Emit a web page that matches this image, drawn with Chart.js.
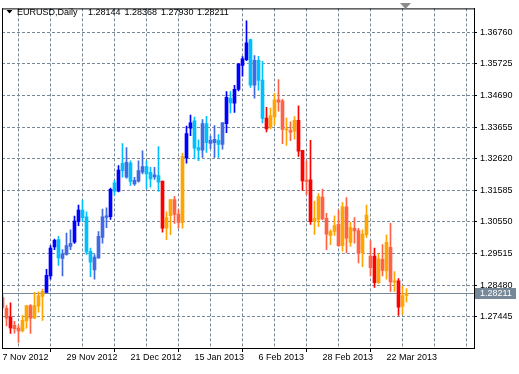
<!DOCTYPE html>
<html>
<head>
<meta charset="utf-8">
<script src="https://cdn.jsdelivr.net/npm/chart.js@4.4.1/dist/chart.umd.min.js"></script>
<style>
html,body{margin:0;padding:0;background:#ffffff;}
canvas{display:block;}
</style>
</head>
<body>
<canvas id="c" width="519" height="374"></canvas>
<script>
// ---------- data (EURUSD, Daily) ----------
const symbolName = 'EURUSD,Daily';

const open = [
1.28069,1.27723,1.27432,1.27164,1.27076,1.26979,1.27303,1.27810,1.27400,1.27788,
1.28111,1.28241,1.28781,1.29729,1.29968,1.29353,1.29483,1.29751,1.29890,1.30560,
1.30938,1.30721,1.29589,1.28975,1.29373,1.30042,1.30699,1.30721,1.31831,1.31562,
1.32468,1.32015,1.32478,1.31799,1.31886,1.32177,1.32361,1.32177,1.32025,1.32070,
1.31886,1.30343,1.30754,1.31281,1.30809,1.30527,1.32646,1.33623,1.33859,1.32986,
1.32898,1.33772,1.33125,1.33147,1.33222,1.33092,1.33772,1.34603,1.34441,1.34894,
1.35680,1.35864,1.36521,1.35033,1.35841,1.35195,1.33956,1.33665,1.33988,1.34548,
1.34515,1.33561,1.33545,1.33526,1.33875,1.32898,1.31918,1.31928,1.30560,1.30631,
1.31368,1.30667,1.30107,1.30236,1.30472,1.29774,1.31045,1.29881,1.30343,1.30269,
1.29534,1.30130,1.29428,1.29428,1.28564,1.29321,1.28943,1.29719,1.28577,1.28619,
1.27778,1.28144];

const high = [
1.28166,1.27810,1.27898,1.27293,1.27164,1.27487,1.27810,1.27843,1.28241,1.28263,
1.28351,1.28998,1.29774,1.29987,1.30075,1.29644,1.30181,1.30291,1.30744,1.31100,
1.31262,1.30883,1.29696,1.29483,1.30236,1.30971,1.31013,1.31659,1.31909,1.32394,
1.33115,1.32986,1.32555,1.32015,1.32555,1.32879,1.32555,1.32339,1.32339,1.33018,
1.31886,1.30883,1.31281,1.31391,1.30958,1.32801,1.33687,1.34053,1.33988,1.33244,
1.33901,1.34011,1.33364,1.33707,1.33416,1.33817,1.34819,1.34819,1.35023,1.35744,
1.35971,1.37135,1.36543,1.36003,1.35977,1.35809,1.34302,1.34279,1.34764,1.35217,
1.34570,1.33956,1.33827,1.33998,1.34354,1.32898,1.32542,1.33222,1.31229,1.31475,
1.31627,1.30828,1.30291,1.30754,1.30938,1.31184,1.31346,1.30537,1.30689,1.30343,
1.30291,1.31100,1.29936,1.29696,1.29502,1.29806,1.30130,1.30505,1.28920,1.28694,
1.28457,1.28368];

const low = [
1.27681,1.27141,1.26895,1.26905,1.26604,1.26947,1.27067,1.26895,1.27380,1.27594,
1.27325,1.28241,1.28674,1.29644,1.29127,1.28781,1.29460,1.29644,1.29848,1.30430,
1.30560,1.29483,1.28758,1.28674,1.29353,1.29858,1.30366,1.30634,1.31423,1.31530,
1.32015,1.31983,1.31747,1.31747,1.31853,1.32122,1.31637,1.31692,1.31941,1.31553,
1.30214,1.29968,1.30130,1.30505,1.30343,1.30349,1.32478,1.33374,1.32614,1.32555,
1.32662,1.32824,1.32953,1.32662,1.32662,1.32931,1.33471,1.34118,1.34140,1.34845,
1.35324,1.35832,1.34959,1.34603,1.34871,1.33794,1.33503,1.33600,1.33729,1.34182,
1.33115,1.33060,1.33212,1.33260,1.32694,1.31585,1.31443,1.30472,1.30139,1.30398,
1.30615,1.29644,1.29806,1.30107,1.29751,1.29589,1.29534,1.29751,1.29858,1.29211,
1.29082,1.30042,1.28781,1.28402,1.28532,1.28781,1.28674,1.28273,1.28273,1.27487,
1.27519,1.27930];

const close = [
1.27746,1.27400,1.27076,1.27057,1.26979,1.27325,1.27810,1.27400,1.27810,1.28134,
1.28273,1.28803,1.29696,1.29945,1.29373,1.29502,1.29774,1.29848,1.30582,1.30938,
1.30689,1.29567,1.29234,1.29395,1.30075,1.30721,1.30754,1.31617,1.31562,1.32251,
1.32232,1.32500,1.31876,1.31909,1.32232,1.32361,1.32122,1.31960,1.32090,1.31853,
1.30343,1.30689,1.31281,1.30796,1.30537,1.32694,1.33448,1.33794,1.32963,1.32905,
1.33772,1.33147,1.33222,1.33254,1.33092,1.33794,1.34635,1.34451,1.34894,1.35719,
1.35897,1.36414,1.35033,1.35841,1.35185,1.33940,1.33600,1.34030,1.34548,1.34473,
1.33577,1.33600,1.33487,1.33875,1.32866,1.31896,1.31879,1.30560,1.30667,1.31378,
1.30647,1.30149,1.30236,1.30430,1.29774,1.31045,1.30020,1.30366,1.30259,1.29534,
1.30149,1.30776,1.29049,1.28564,1.29340,1.28965,1.29881,1.28587,1.28619,1.27756,
1.28134,1.28211];

// indicator state per bar: B strong up, R up, S up-trend pullback, D strong down, T down, O down-trend pullback
const trendState = [
'T','T','D','T','T','O','O','T','O','O',
'O','B','B','B','S','R','R','R','B','B',
'S','S','S','R','R','R','R','B','S','B',
'S','R','S','R','R','R','S','S','R','S',
'D','O','O','T','T','O','B','B','S','S',
'R','S','R','R','S','R','B','S','B','B',
'B','B','S','R','S','S','D','O','O','T',
'T','O','T','O','D','D','T','D','O','O',
'T','T','O','O','T','O','T','O','T','T',
'O','O','T','D','O','T','O','T','O','D',
'O','O'];

const xLabelBars = [0, 16, 32, 48, 64, 80, 96];
const xLabels = ['7 Nov 2012','29 Nov 2012','21 Dec 2012','15 Jan 2013','6 Feb 2013','28 Feb 2013','22 Mar 2013'];
const xGridBars = [0, 8, 16, 24, 32, 40, 48, 56, 64, 72, 80, 88, 96, 104, 112];
const yTicks = [1.27445,1.28480,1.29515,1.30550,1.31585,1.32620,1.33655,1.34690,1.35725,1.36760];

// ---------- styles ----------
const palette = {B:'#0000FF', R:'#4169E1', S:'#00BFFF', D:'#FF0000', T:'#FF6347', O:'#FFA500'};
const FONT = 'Liberation Sans';
const GRID = '#778899';
const colors = trendState.map(k => palette[k]);

const bodies = open.map((o, i) => ({x: i, y: [o, close[i]]}));
const wicks = low.map((l, i) => ({x: i, y: [l, high[i]]}));

const decor = {
  id: 'decor',
  beforeDatasetsDraw(chart) {
    const {ctx, chartArea: a, scales: {y}} = chart;
    const last = close[close.length - 1];
    const py = Math.round(y.getPixelForValue(last)) + 0.5;
    ctx.save();
    ctx.strokeStyle = GRID; ctx.lineWidth = 1; ctx.setLineDash([]);
    ctx.beginPath(); ctx.moveTo(a.left, py); ctx.lineTo(a.right, py); ctx.stroke();
    ctx.restore();
  },
  afterDraw(chart) {
    const {ctx, chartArea: a, scales: {y}} = chart;
    const n = close.length - 1;
    ctx.save();
    ctx.setLineDash([]);
    ctx.strokeStyle = '#000'; ctx.lineWidth = 1;
    ctx.beginPath();
    ctx.moveTo(a.left + 0.5, a.top); ctx.lineTo(a.left + 0.5, a.bottom + 1);
    ctx.moveTo(a.left, a.top + 0.5); ctx.lineTo(a.right + 1, a.top + 0.5);
    ctx.moveTo(a.right + 0.5, a.top); ctx.lineTo(a.right + 0.5, a.bottom + 1);
    ctx.moveTo(a.left, a.bottom + 0.5); ctx.lineTo(a.right + 1, a.bottom + 0.5);
    ctx.stroke();
    // last price label
    const yc = Math.round(y.getPixelForValue(close[n]));
    ctx.fillStyle = GRID;
    ctx.fillRect(a.right + 1, yc - 5, 41, 11);
    ctx.fillStyle = '#ffffff';
    ctx.font = '9px "' + FONT + '"';
    ctx.textBaseline = 'middle'; ctx.textAlign = 'left';
    ctx.fillText(close[n].toFixed(5), a.right + 6, yc + 0.5);
    // title
    ctx.fillStyle = '#000';
    ctx.beginPath(); ctx.moveTo(6.5, 10); ctx.lineTo(12.5, 10); ctx.lineTo(9.5, 13.5); ctx.closePath(); ctx.fill();
    ctx.textBaseline = 'alphabetic';
    ctx.fillText(symbolName, 17, 15);
    const ohlc = [open[n], high[n], low[n], close[n]];
    const xs = [88, 124.5, 161, 197];
    ohlc.forEach((v, k) => ctx.fillText(v.toFixed(5), xs[k], 15));
    // chart shift marker
    ctx.fillStyle = '#8c8c8c';
    ctx.beginPath(); ctx.moveTo(400, 3); ctx.lineTo(411, 3); ctx.lineTo(405.5, 9); ctx.closePath(); ctx.fill();
    ctx.restore();
  }
};

new Chart(document.getElementById('c'), {
  type: 'bar',
  data: {
    datasets: [
      {label: 'body', data: bodies, backgroundColor: colors, barThickness: 3, minBarLength: 1, grouped: false, order: 0, borderWidth: 0},
      {label: 'wick', data: wicks, backgroundColor: colors, barThickness: 1, grouped: false, order: 1, borderWidth: 0}
    ]
  },
  options: {
    responsive: false,
    animation: false,
    devicePixelRatio: 1,
    events: [],
    layout: {padding: {left: 2, top: 4, right: 0, bottom: 0}},
    plugins: {legend: {display: false}, tooltip: {enabled: false}},
    scales: {
      x: {
        type: 'linear', position: 'bottom', min: -0.125, max: 117.875, offset: false,
        afterBuildTicks: s => { s.ticks = xGridBars.map(v => ({value: v})); },
        afterFit: s => { s.height = 26; },
        ticks: {
          autoSkip: false, maxRotation: 0, minRotation: 0, align: 'start', padding: 0,
          color: '#000', font: {family: FONT, size: 9},
          callback: v => { const k = xLabelBars.indexOf(v); return k >= 0 ? xLabels[k] : ''; }
        },
        grid: {
          color: GRID, lineWidth: 1, tickLength: 4, tickBorderDash: [],
          tickColor: c => xLabelBars.includes(xGridBars[c.index]) ? '#000' : 'rgba(0,0,0,0)'
        },
        border: {display: true, color: '#000', width: 1, dash: [3, 2]}
      },
      y: {
        type: 'linear', position: 'right', min: 1.264197, max: 1.37546,
        afterBuildTicks: s => { s.ticks = yTicks.map(v => ({value: v})); },
        afterFit: s => { s.width = 45; },
        ticks: {
          autoSkip: false, padding: 3, color: '#000', font: {family: FONT, size: 9},
          callback: v => Number(v).toFixed(5)
        },
        grid: {color: GRID, lineWidth: 1, tickLength: 3, tickColor: '#000', tickBorderDash: []},
        border: {display: true, color: '#000', width: 1, dash: [3, 2]}
      }
    }
  },
  plugins: [decor]
});
</script>
</body>
</html>
